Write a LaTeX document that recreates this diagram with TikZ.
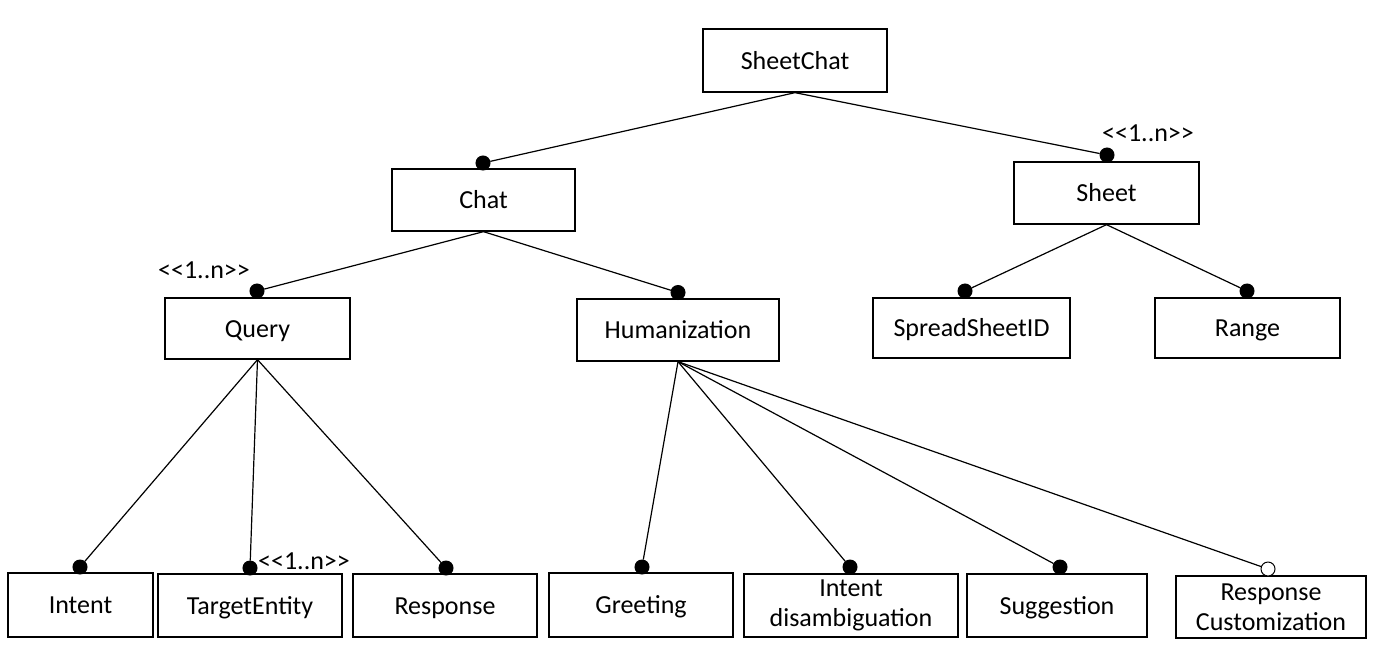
\documentclass[tikz,border=0pt]{standalone}
\usepackage{fontspec}
\setmainfont{Carlito}
\begin{document}
\begin{tikzpicture}[x=1pt,y=-1pt,
  feat/.style={draw,line width=1.3pt,inner sep=0pt,align=center,
    font=\fontsize{26}{30}\selectfont},
  one/.style={text height=20pt,text depth=3pt},
  dot/.style={circle,fill=black,draw=black,line width=1pt,minimum size=14pt,inner sep=0pt},
  odot/.style={circle,fill=white,draw=black,line width=1pt,minimum size=14pt,inner sep=0pt},
  card/.style={font=\fontsize{26}{30}\selectfont,inner sep=0pt},
  link/.style={line width=1.2pt}]
\useasboundingbox (0,0) rectangle (1386,646);
% features
\node[feat,one,minimum width=184pt,minimum height=63pt] (sc) at (795,60.5) {SheetChat};
\node[feat,one,minimum width=183pt,minimum height=62pt] (chat) at (483.5,200) {Chat};
\node[feat,one,minimum width=185pt,minimum height=62pt] (sheet) at (1106.5,193) {Sheet};
\node[feat,one,minimum width=185pt,minimum height=61pt] (query) at (257.5,328.5) {Query};
\node[feat,one,minimum width=202pt,minimum height=62pt] (hum) at (678,330) {Humanization};
\node[feat,one,minimum width=197pt,minimum height=60pt] (ssid) at (971.5,328) {SpreadSheetID};
\node[feat,one,minimum width=185pt,minimum height=60pt] (range) at (1247.5,328) {Range};
\node[feat,one,minimum width=145pt,minimum height=64pt] (intent) at (80.5,605) {Intent};
\node[feat,one,minimum width=184pt,minimum height=63pt] (te) at (250,605.5) {TargetEntity};
\node[feat,one,minimum width=184pt,minimum height=63pt] (resp) at (445,605.5) {Response};
\node[feat,one,minimum width=184pt,minimum height=64pt] (greet) at (641,605) {Greeting};
\node[feat,minimum width=214pt,minimum height=63pt] (idis) at (851,605.5) {Intent\\disambiguation};
\node[feat,one,minimum width=180pt,minimum height=63pt] (sugg) at (1057,605.5) {Suggestion};
\node[feat,minimum width=190pt,minimum height=62pt] (rc) at (1271,607) {Response\\Customization};
% markers
\node[dot] (dchat) at (483,163) {};
\node[dot] (dsheet) at (1107,155) {};
\node[dot] (dquery) at (257,291) {};
\node[dot] (dhum) at (678,292.5) {};
\node[dot] (dssid) at (965,291) {};
\node[dot] (drange) at (1247,291) {};
\node[dot] (dintent) at (80,567) {};
\node[dot] (dte) at (250,568) {};
\node[dot] (dresp) at (446,568) {};
\node[dot] (dgreet) at (642,567) {};
\node[dot] (didis) at (850,567) {};
\node[dot] (dsugg) at (1060,567) {};
\node[odot] (drc) at (1268,569) {};
% links
\draw[link] (sc.south) -- (dchat);
\draw[link] (sc.south) -- (dsheet);
\draw[link] (chat.south) -- (dquery);
\draw[link] (chat.south) -- (dhum);
\draw[link] (sheet.south) -- (dssid);
\draw[link] (sheet.south) -- (drange);
\draw[link] (query.south) -- (dintent);
\draw[link] (query.south) -- (dte);
\draw[link] (query.south) -- (dresp);
\draw[link] (hum.south) -- (dgreet);
\draw[link] (hum.south) -- (didis);
\draw[link] (hum.south) -- (dsugg);
\draw[link] (hum.south) -- (drc);
% cardinalities
\node[card] (c1) at (1148,133) {<\kern0pt<1..n>\kern0pt>};
\node[card] (c2) at (204,270) {<\kern0pt<1..n>\kern0pt>};
\node[card] (c3) at (304,561) {<\kern0pt<1..n>\kern0pt>};
\end{tikzpicture}
\end{document}
